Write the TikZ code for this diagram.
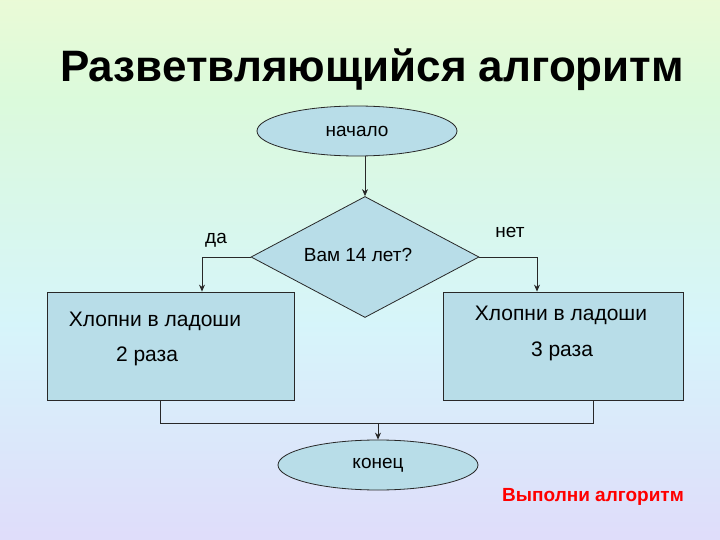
\documentclass[tikz,border=0pt]{standalone}
\usepackage{fontspec}
\setmainfont{Liberation Sans}
\usetikzlibrary{shapes.geometric,arrows.meta}
\pgfdeclareverticalshading{rainbowbg}{100bp}{
 rgb(0bp)=(0.98,0.85,0.93);
 rgb(22bp)=(0.88,0.85,0.98);
 rgb(45bp)=(0.84,0.96,0.98);
 rgb(66bp)=(0.86,0.98,0.86);
 rgb(85bp)=(0.98,0.98,0.82);
 rgb(100bp)=(0.99,0.86,0.88)}
\definecolor{boxfill}{RGB}{184,221,232}
\definecolor{boxline}{RGB}{40,40,40}
\tikzset{
 shapefill/.style={fill=boxfill,draw=boxline,line width=0.8pt},
 oval/.style={shapefill,ellipse,minimum width=200pt,minimum height=50pt,inner sep=0pt,font=\fontsize{19}{22}\selectfont},
 blk/.style={shapefill,rectangle,inner sep=0pt},
 conn/.style={draw=boxline,line width=0.8pt},
 arr/.style={conn,-{Stealth[length=7pt,width=6pt]}},
 lbl/.style={font=\fontsize{19}{22}\selectfont},
 btxt/.style={font=\fontsize{21}{24}\selectfont}
}
\begin{document}
\begin{tikzpicture}[x=1pt,y=-1pt]
\useasboundingbox (0,0) rectangle (720,540);
\shade[shading=rainbowbg] (0,0) rectangle (720,540);
\node (title) at (372,70) {\fontsize{44}{50}\selectfont\bfseries Разветвляющийся алгоритм};
\node[oval] (start) at (357,131) {начало};
\node[shapefill,diamond,minimum width=228pt,minimum height=121pt,inner sep=0pt,aspect=1.88] (dec) at (365,257) {};
\node[lbl] (q) at (358,255) {Вам 14 лет?};
\node[blk,minimum width=247pt,minimum height=108pt] (lb) at (170.5,346) {};
\node[blk,minimum width=240pt,minimum height=108pt] (rb) at (563,346) {};
\node[btxt] (lt1) at (155,321) {Хлопни в ладоши};
\node[btxt] (lt2) at (147,356) {2 раза};
\node[btxt] (rt1) at (561,315) {Хлопни в ладоши};
\node[btxt] (rt2) at (562,351) {3 раза};
\node[oval] (end) at (378,465) {конец};
\node[lbl] (yes) at (216,240) {да};
\node[lbl] (no) at (510,232) {нет};
\node[font=\fontsize{19}{22}\selectfont\bfseries,text=red] (run) at (593,497) {Выполни алгоритм};
\coordinate (lc) at (202,257);
\coordinate (rc) at (537,257);
\coordinate (bl) at (160,423);
\coordinate (br) at (593,423);
\coordinate (bm) at (378,423);
\draw[arr] (start.south -| dec.north) -- (dec.north);
\draw[arr] (dec.west) -- (lc) -- (lc |- lb.north);
\draw[arr] (dec.east) -- (rc) -- (rc |- rb.north);
\draw[conn] (bl |- lb.south) -- (bl) -- (br) -- (br |- rb.south);
\draw[arr] (bm) -- (end.north);
\end{tikzpicture}
\end{document}
